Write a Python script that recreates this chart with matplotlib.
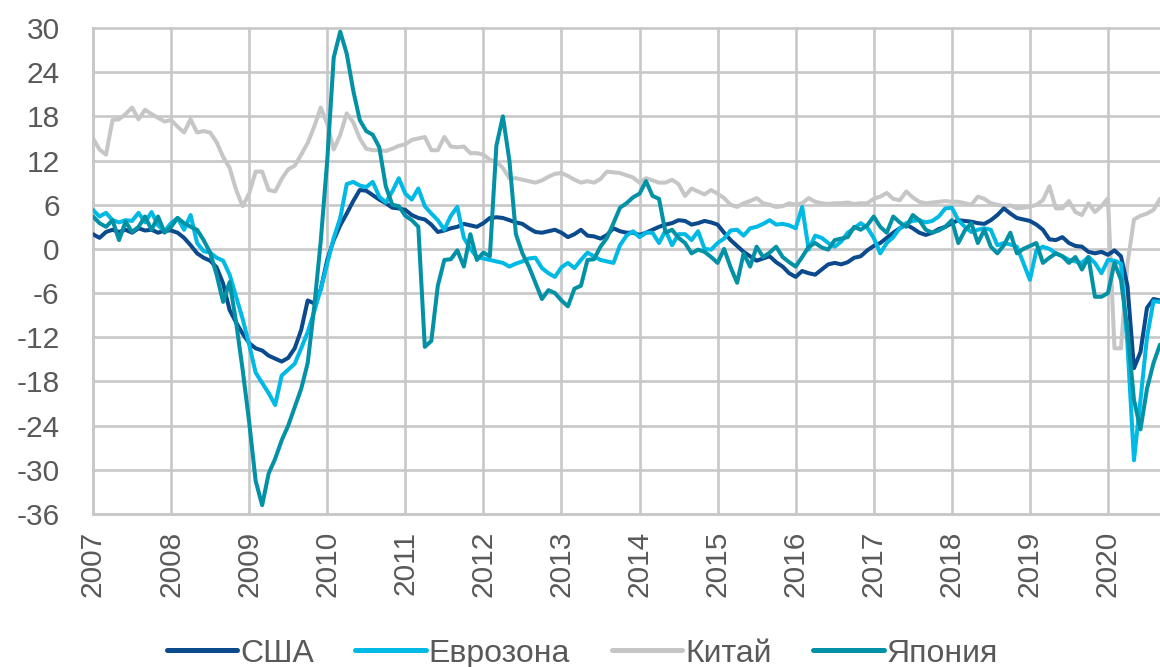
import numpy as np
import matplotlib
matplotlib.use("Agg")
import matplotlib.pyplot as plt

# Industrial production, % y/y, monthly points from Jan 2007 to Sep 2020
years = list(range(2007, 2021))

usa = [
    2.0, 1.5, 2.3, 2.6, 2.3, 2.6, 2.2, 2.8, 2.5, 2.6, 2.2, 2.5,
    2.5, 2.2, 1.5, 0.5, -0.6, -1.2, -1.6, -2.5, -4.7, -8.3, -10.0, -11.5,
    -12.8, -13.5, -13.8, -14.5, -14.9, -15.3, -14.8, -13.5, -11.0, -7.0, -7.4, -5.5,
    -1.5, 1.2, 3.2, 4.8, 6.5, 8.0, 7.9, 7.3, 6.7, 6.2, 5.6, 5.5,
    5.3, 4.6, 4.2, 4.0, 3.3, 2.3, 2.5, 2.8, 3.0, 3.4, 3.2, 3.0,
    3.5, 4.2, 4.3, 4.2, 3.9, 3.6, 3.4, 2.8, 2.3, 2.2, 2.4, 2.6,
    2.2, 1.6, 2.0, 2.6, 1.8, 1.7, 1.4, 1.9, 2.8, 2.4, 2.2, 2.2,
    1.9, 2.2, 2.6, 3.0, 3.3, 3.5, 3.9, 3.8, 3.3, 3.5, 3.8, 3.6,
    3.3, 2.2, 1.2, 0.4, -0.4, -1.0, -1.6, -1.3, -1.0, -1.8, -2.4, -3.3,
    -3.8, -3.0, -3.3, -3.5, -2.8, -2.1, -1.9, -2.1, -1.8, -1.2, -1.0, -0.2,
    0.4, 0.8, 1.5, 2.2, 2.8, 3.3, 2.8, 2.2, 1.9, 2.2, 2.7, 3.0,
    3.5, 3.9, 3.8, 3.7, 3.5, 3.4, 3.9, 4.6, 5.5, 4.8, 4.2, 4.0,
    3.8, 3.3, 2.6, 1.3, 1.2, 1.6, 0.8, 0.4, 0.3, -0.4, -0.6, -0.4,
    -0.8, -0.2, -1.0, -5.0, -16.2, -14.0, -8.0, -6.8, -7.0,
]

eurozone = [
    5.3, 4.4, 4.9, 3.9, 3.6, 3.9, 3.8, 4.9, 3.6, 5.0, 3.2, 2.4,
    3.5, 4.2, 2.6, 4.6, 0.8, -0.3, -0.5, -1.2, -1.6, -3.5, -6.5, -9.5,
    -13.0, -16.8, -18.2, -19.6, -21.2, -17.2, -16.4, -15.6, -13.5, -11.3, -8.5, -5.5,
    -2.0, 1.5, 4.2, 8.8, 9.1, 8.6, 8.4, 9.1, 7.1, 6.3, 7.8, 9.6,
    7.5, 6.7, 8.2, 5.8, 4.8, 3.9, 2.6, 4.5, 5.7, 1.5, 0.0, -1.1,
    -1.3, -1.5, -1.7, -1.9, -2.4, -2.0, -1.7, -1.3, -1.2, -2.6, -3.3, -3.8,
    -2.5, -1.9, -2.6, -1.5, -0.5, -1.0, -1.5, -1.7, -1.9, 0.5, 1.8, 2.4,
    1.6, 2.2, 2.2, 0.8, 2.5, 0.5, 2.0, 2.0, 1.2, 2.4, 0.0, -0.1,
    0.8, 1.4, 2.5, 2.6, 1.8, 2.8, 3.0, 3.4, 3.9, 3.3, 3.4, 3.2,
    2.8, 5.7, -0.1, 1.8, 1.5, 0.8, 0.3, 1.0, 2.2, 2.8, 3.5, 2.9,
    1.5, -0.6, 0.8, 1.6, 2.8, 3.5, 3.8, 3.9, 3.6, 3.8, 4.4, 5.5,
    5.6, 3.9, 3.0, 2.3, 2.6, 2.8, 2.6, 0.5, 0.8, 0.6, 0.3, -1.9,
    -4.2, -0.2, 0.3, 0.0, -0.6, -1.0, -1.5, -1.7, -1.9, -1.1, -1.9, -3.3,
    -1.5, -1.6, -2.0, -13.0, -28.7, -20.5, -12.0, -7.1, -7.2,
]

china = [
    15.0, 13.5, 12.8, 17.5, 17.6, 18.3, 19.2, 17.6, 18.9, 18.3, 17.8, 17.3,
    17.5, 16.6, 15.8, 17.6, 15.8, 16.0, 15.8, 14.5, 12.5, 11.0, 8.0, 5.8,
    7.5, 10.5, 10.5, 8.0, 7.8, 9.5, 10.8, 11.3, 12.8, 14.4, 16.6, 19.2,
    17.0, 13.5, 15.5, 18.4, 17.2, 15.0, 13.6, 13.4, 13.4, 13.3, 13.6, 14.0,
    14.2, 14.8, 15.0, 15.2, 13.4, 13.4, 15.2, 13.9, 13.8, 13.9, 13.0, 13.0,
    12.8, 12.1, 11.8, 11.0, 9.6, 9.6, 9.4, 9.2, 9.0, 9.3, 9.8, 10.2,
    10.3, 9.9, 9.4, 9.0, 9.2, 9.0, 9.5, 10.5, 10.4, 10.3, 10.0, 9.7,
    9.0, 9.6, 9.3, 9.0, 9.0, 9.4, 8.8, 7.2, 8.2, 7.8, 7.4, 8.0,
    7.5, 6.9, 6.0, 5.7, 6.2, 6.5, 6.9, 6.2, 6.0, 5.7, 5.8, 6.2,
    6.0, 6.2, 6.9, 6.4, 6.2, 6.1, 6.2, 6.2, 6.3, 6.1, 6.2, 6.2,
    6.8, 7.1, 7.6, 6.8, 6.6, 7.8, 7.0, 6.4, 6.2, 6.3, 6.4, 6.5,
    6.4, 6.4, 6.2, 6.0, 7.1, 6.8, 6.2, 6.0, 5.8, 5.9, 5.5, 5.6,
    5.7, 6.0, 6.6, 8.5, 5.5, 5.5, 6.5, 5.0, 4.6, 6.2, 5.0, 5.8,
    6.9, -13.5, -13.5, -2.0, 4.0, 4.5, 4.8, 5.3, 6.8,
]

japan = [
    4.4, 3.5, 3.0, 3.9, 1.2, 3.7, 2.3, 3.0, 4.4, 2.6, 4.4, 2.2,
    3.0, 4.2, 3.5, 3.0, 2.6, 1.2, -0.5, -3.5, -7.2, -4.5, -10.0, -16.4,
    -23.5, -31.5, -34.8, -30.5, -28.5, -26.0, -24.0, -21.5, -19.0, -15.5, -7.9, 1.0,
    12.0, 26.0, 29.5, 26.5, 21.5, 17.5, 16.0, 15.5, 13.8, 8.5, 6.0, 5.8,
    4.5, 3.9, 3.0, -13.3, -12.5, -5.0, -1.5, -1.4, -0.2, -2.4, 2.0, -1.5,
    -0.5, -1.0, 14.0, 18.0, 12.0, 2.0, -0.6, -2.4, -4.6, -6.8, -5.6, -6.0,
    -7.0, -7.8, -5.4, -5.0, -1.5, -1.4, 0.3, 1.5, 3.5, 5.6, 6.2, 7.0,
    7.5, 9.2, 7.2, 6.8, 2.2, 2.6, 1.5, 0.8, -0.6, -0.1, -0.4, -1.1,
    -1.9, 0.0, -2.5, -4.6, -0.6, -2.4, 0.3, -1.1, -0.5, 0.3, -1.1, -1.8,
    -2.4, -1.1, 0.3, 0.8, 0.2, -0.1, 1.2, 1.4, 1.6, 3.0, 2.6, 3.2,
    4.4, 3.0, 2.2, 4.4, 3.6, 3.0, 4.6, 3.9, 2.6, 2.2, 2.5, 3.0,
    3.9, 0.8, 2.5, 3.5, 0.8, 2.6, 0.3, -0.6, 0.5, 2.2, -0.6, 0.0,
    0.4, 0.8, -1.9, -1.2, -0.6, -1.0, -1.9, -1.1, -2.8, -1.1, -6.5, -6.5,
    -6.0, -1.9, -4.2, -11.0, -20.5, -24.5, -19.0, -15.5, -13.0,
]

y_ticks = list(range(-36, 31, 6))

c_usa = "#0B4A8C"
c_euro = "#00B9E4"
c_china = "#C6C6C6"
c_japan = "#0391A6"
c_grid = "#C8C8C8"
c_text = "#595959"

plt.rcParams["font.family"] = ["Liberation Sans", "DejaVu Sans"]

fig = plt.figure(figsize=(11.6, 6.67), dpi=100)
ax = fig.add_axes([93 / 1160, 1 - 514 / 667, 1 - 93 / 1160, (514 - 28) / 667])

x = np.arange(len(usa))
lw = 2.9
l_china, = ax.plot(x, china, color=c_china, lw=lw, solid_capstyle="round", label="Китай", zorder=3)
l_usa, = ax.plot(x, usa, color=c_usa, lw=lw, solid_capstyle="round", label="США", zorder=4)
l_euro, = ax.plot(x, eurozone, color=c_euro, lw=lw, solid_capstyle="round", label="Еврозона", zorder=5)
l_japan, = ax.plot(x, japan, color=c_japan, lw=lw, solid_capstyle="round", label="Япония", zorder=6)

ax.set_xlim(0, len(usa) - 1)
ax.set_ylim(-36, 30)
ax.set_yticks(y_ticks)
ax.set_yticklabels([str(v) for v in y_ticks])
ax.set_xticks([12 * i for i in range(len(years))])
ax.set_xticklabels([str(y) for y in years], rotation=90)

ax.grid(True, color=c_grid, lw=1.9, zorder=0)
ax.set_axisbelow(True)
for s in ["top", "right"]:
    ax.spines[s].set_visible(False)
for s in ["left", "bottom"]:
    ax.spines[s].set_color(c_grid)
    ax.spines[s].set_linewidth(1.9)
for gl in ax.get_ygridlines() + ax.get_xgridlines():
    gl.set_clip_on(False)

ax.tick_params(axis="both", length=0, labelsize=21.5, colors=c_text)
ax.tick_params(axis="y", pad=24)
ax.tick_params(axis="x", pad=12)

leg = fig.legend(
    handles=[l_usa, l_euro, l_china, l_japan],
    loc="center", bbox_to_anchor=(0.502, 0.02), ncol=4, frameon=False,
    fontsize=23, handlelength=2.2, handletextpad=0.1, columnspacing=1.3,
    labelcolor=c_text,
)
for h in leg.get_lines():
    h.set_linewidth(3.6)

fig.savefig("out.png", dpi=100)
